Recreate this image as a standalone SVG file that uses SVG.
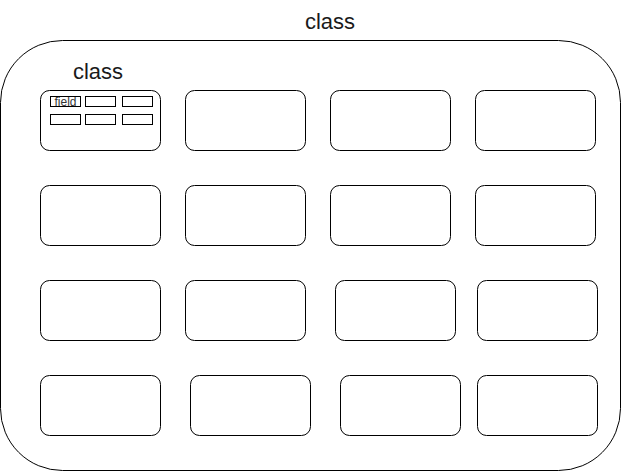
<svg xmlns="http://www.w3.org/2000/svg" width="621" height="471" viewBox="0 0 621 471">
<style>
.box{fill:#fff;stroke:#000;stroke-width:1}
.fld{fill:#fff;stroke:#000;stroke-width:1}
.lbl{font-family:"Liberation Sans",Arial,sans-serif;font-size:22px;fill:#1a1a1a;text-anchor:middle}
.ft{font-family:"Liberation Sans",Arial,sans-serif;font-size:12px;fill:#333;text-anchor:middle}
</style>
<rect width="621" height="471" fill="#fff"/>
<g id="outer">
<rect class="box" x="0.5" y="40.5" width="620" height="430" rx="62" ry="62"/>
<text class="lbl" x="330" y="29">class</text>
</g>
<g id="inner-class">
<rect class="box" x="40.5" y="90.5" width="120" height="60" rx="9" ry="9"/>
<text class="lbl" x="98" y="79">class</text>
<rect class="fld" x="50.5" y="96.5" width="30" height="10"/>
<text class="ft" x="65.5" y="106">field</text>
<rect class="fld" x="85.5" y="96.5" width="30" height="10"/>
<rect class="fld" x="122.5" y="96.5" width="30" height="10"/>
<rect class="fld" x="50.5" y="114.5" width="30" height="10"/>
<rect class="fld" x="85.5" y="114.5" width="30" height="10"/>
<rect class="fld" x="122.5" y="114.5" width="30" height="10"/>
</g>
<g id="n12"><rect class="box" x="185.5" y="90.5" width="120" height="60" rx="9" ry="9"/></g>
<g id="n13"><rect class="box" x="330.5" y="90.5" width="120" height="60" rx="9" ry="9"/></g>
<g id="n14"><rect class="box" x="475.5" y="90.5" width="120" height="60" rx="9" ry="9"/></g>
<g id="n21"><rect class="box" x="40.5" y="185.5" width="120" height="60" rx="9" ry="9"/></g>
<g id="n22"><rect class="box" x="185.5" y="185.5" width="120" height="60" rx="9" ry="9"/></g>
<g id="n23"><rect class="box" x="330.5" y="185.5" width="120" height="60" rx="9" ry="9"/></g>
<g id="n24"><rect class="box" x="475.5" y="185.5" width="120" height="60" rx="9" ry="9"/></g>
<g id="n31"><rect class="box" x="40.5" y="280.5" width="120" height="60" rx="9" ry="9"/></g>
<g id="n32"><rect class="box" x="185.5" y="280.5" width="120" height="60" rx="9" ry="9"/></g>
<g id="n33"><rect class="box" x="335.5" y="280.5" width="120" height="60" rx="9" ry="9"/></g>
<g id="n34"><rect class="box" x="477.5" y="280.5" width="120" height="60" rx="9" ry="9"/></g>
<g id="n41"><rect class="box" x="40.5" y="375.5" width="120" height="60" rx="9" ry="9"/></g>
<g id="n42"><rect class="box" x="190.5" y="375.5" width="120" height="60" rx="9" ry="9"/></g>
<g id="n43"><rect class="box" x="340.5" y="375.5" width="120" height="60" rx="9" ry="9"/></g>
<g id="n44"><rect class="box" x="477.5" y="375.5" width="120" height="60" rx="9" ry="9"/></g>
<g id="connectors"></g>
</svg>
